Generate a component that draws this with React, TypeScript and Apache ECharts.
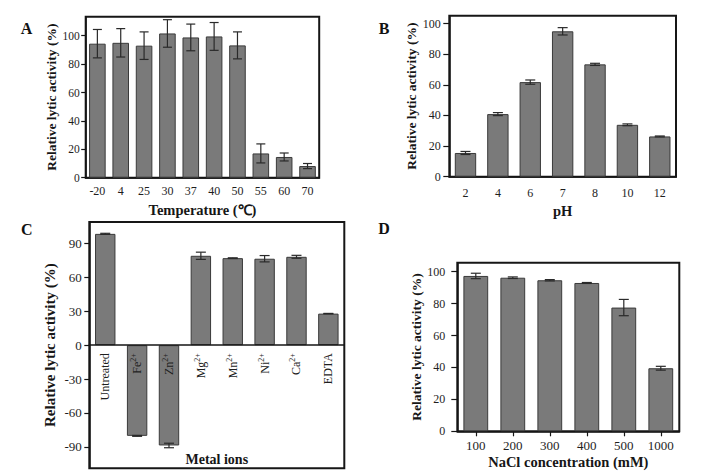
import React, { useEffect, useRef } from "react";
import * as echarts from "echarts";

// Temperature stability (panel A)
const tempLabels = ["-20", "4", "25", "30", "37", "40", "50", "55", "60", "70"];
const tempActivity = [94.4, 95, 93, 101.6, 98.8, 99.5, 93.2, 17.1, 14.6, 8.2];
const tempError = [10, 10, 9.7, 9.7, 9.4, 9.8, 9.5, 6.7, 2.8, 1.8];

// pH stability (panel B)
const phLabels = ["2", "4", "6", "7", "8", "10", "12"];
const phActivity = [15.5, 40.9, 61.8, 95, 73.4, 33.9, 26.3];
const phError = [1, 1, 1.4, 2.4, 0.7, 0.6, 0.3];

// Metal ions (panel C)
const metalLabels = ["Untreated", "Fe2+", "Zn2+", "Mg2+", "Mn2+", "Ni2+", "Ca2+", "EDTA"];
const metalActivity = [98.5, -80.3, -88.8, 79.1, 77, 76.5, 78.2, 27.9];
const metalError = [0.5, 0.4, 2, 3.2, 0.3, 2.8, 1.3, 0.2];

// NaCl tolerance (panel D)
const naclLabels = ["100", "200", "300", "400", "500", "1000"];
const naclActivity = [97.3, 96.2, 94.6, 92.9, 77.5, 39.5];
const naclError = [1.7, 0.5, 0.4, 0.3, 5.1, 1.2];

const tickTemp = [0, 20, 40, 60, 80, 100];
const tickPh = [0, 20, 40, 60, 80, 100];
const tickMetal = [-90, -60, -30, 0, 30, 60, 90];
const tickNacl = [0, 20, 40, 60, 80, 100];

const SERIF = "Liberation Serif";
const BAR_FILL = "#7a7a7a";
const BAR_EDGE = "#3a3a3a";
const INK = "#161616";
const YNAME = "Relative lytic activity (%)";

// panel C geometry: symmetric value range, so the zero line sits mid-height
const C_TOP = 222;
const C_HEIGHT = 246.3;
const C_RANGE = 109;

function errorBars(idx: number, vals: number[], errs: number[], cap: number) {
  return {
    type: "custom",
    xAxisIndex: idx,
    yAxisIndex: idx,
    z: 4,
    data: vals.map((v, i) => [i, v - errs[i], v + errs[i]]),
    renderItem: (_p: any, api: any) => {
      const x = api.value(0);
      const lo = api.coord([x, api.value(1)]);
      const hi = api.coord([x, api.value(2)]);
      const h = cap / 2;
      const st = { stroke: "#2a2a2a", lineWidth: 1.2 };
      return {
        type: "group",
        children: [
          { type: "line", shape: { x1: lo[0], y1: lo[1], x2: hi[0], y2: hi[1] }, style: st },
          { type: "line", shape: { x1: hi[0] - h, y1: hi[1], x2: hi[0] + h, y2: hi[1] }, style: st },
          { type: "line", shape: { x1: lo[0] - h, y1: lo[1], x2: lo[0] + h, y2: lo[1] }, style: st },
        ],
      };
    },
  };
}

function bars(idx: number, vals: number[], gap: string) {
  return {
    type: "bar",
    xAxisIndex: idx,
    yAxisIndex: idx,
    data: vals,
    barCategoryGap: gap,
    itemStyle: { color: BAR_FILL, borderColor: BAR_EDGE, borderWidth: 1 },
    z: 2,
  };
}

function yAxis(
  idx: number,
  min: number,
  max: number,
  ticks: number[],
  opts: { fs: number; margin: number; tick: number; nameGap: number; nameFs: number }
) {
  return {
    gridIndex: idx,
    type: "value",
    min,
    max,
    splitLine: { show: false },
    axisLine: { show: true, lineStyle: { color: INK, width: 1.5 } },
    axisTick: { show: true, length: opts.tick, customValues: ticks, lineStyle: { color: INK, width: 1.2 } },
    axisLabel: {
      customValues: ticks,
      fontFamily: SERIF,
      fontSize: opts.fs,
      color: "#1e1e1e",
      margin: opts.margin,
    },
    name: YNAME,
    nameLocation: "middle",
    nameGap: opts.nameGap,
    nameTextStyle: { fontFamily: SERIF, fontWeight: "bold", fontSize: opts.nameFs, color: INK },
  };
}

function metalLabel(v: string) {
  const m = v.match(/^([A-Za-z]+)(\d\+)$/);
  return m ? `{b|${m[1]}}{s|${m[2]}}` : `{b|${v}}`;
}

export default function App() {
  const ref = useRef<HTMLDivElement>(null);

  useEffect(() => {
    if (!ref.current) return;
    const chart = echarts.init(ref.current, null, { renderer: "svg" });

    const gridBase = {
      show: true,
      borderColor: INK,
      borderWidth: 2,
      backgroundColor: "transparent",
      containLabel: false,
      outerBoundsMode: "none",
    };

    chart.setOption({
      animation: false,
      backgroundColor: "#ffffff",
      grid: [
        { ...gridBase, left: 85.7, top: 16.7, width: 233.5, height: 161 },
        { ...gridBase, left: 449.3, top: 15.7, width: 226.7, height: 161 },
        { ...gridBase, left: 89.3, top: C_TOP, width: 255, height: C_HEIGHT },
        { ...gridBase, left: 457.3, top: 262.7, width: 222, height: 168.6 },
      ],
      xAxis: [
        {
          gridIndex: 0,
          type: "category",
          data: tempLabels,
          axisLine: { lineStyle: { color: INK, width: 1.5 } },
          axisTick: { show: false },
          axisLabel: { fontFamily: SERIF, fontSize: 12, color: "#1e1e1e", margin: 7 },
          name: "Temperature (℃)",
          nameLocation: "middle",
          nameGap: 25,
          nameTextStyle: { fontFamily: SERIF, fontWeight: "bold", fontSize: 14.5, color: INK },
        },
        {
          gridIndex: 1,
          type: "category",
          data: phLabels,
          axisLine: { lineStyle: { color: INK, width: 1.5 } },
          axisTick: { show: false },
          axisLabel: { fontFamily: SERIF, fontSize: 12, color: "#1e1e1e", margin: 10 },
          name: "pH",
          nameLocation: "middle",
          nameGap: 27,
          nameTextStyle: { fontFamily: SERIF, fontWeight: "bold", fontSize: 14.5, color: INK },
        },
        {
          gridIndex: 2,
          type: "category",
          data: metalLabels,
          z: 6,
          position: "bottom",
          // lift the axis from the grid's bottom edge up to the zero line
          offset: -C_HEIGHT / 2,
          axisLine: { onZero: false, lineStyle: { color: INK, width: 1.5 } },
          axisTick: { show: false },
          axisLabel: {
            rotate: 90,
            margin: 8,
            formatter: metalLabel,
            rich: {
              b: { fontFamily: SERIF, fontSize: 12, color: "#1e1e1e", lineHeight: 15 },
              s: { fontFamily: SERIF, fontSize: 8, color: "#1e1e1e", lineHeight: 15, verticalAlign: "top" },
            },
          },
        },
        {
          gridIndex: 3,
          type: "category",
          data: naclLabels,
          axisLine: { lineStyle: { color: INK, width: 1.5 } },
          axisTick: { show: true, alignWithLabel: true, length: 5, lineStyle: { color: INK, width: 1.2 } },
          axisLabel: { fontFamily: SERIF, fontSize: 13, color: "#1e1e1e", margin: 8 },
          name: "NaCl concentration (mM)",
          nameLocation: "middle",
          nameGap: 23,
          nameTextStyle: { fontFamily: SERIF, fontWeight: "bold", fontSize: 14.5, color: INK },
        },
      ],
      yAxis: [
        yAxis(0, 0, 113.4, tickTemp, { fs: 11.5, margin: 6, tick: 4.5, nameGap: 25, nameFs: 13.5 }),
        yAxis(1, 0, 105.2, tickPh, { fs: 12, margin: 8.5, tick: 6, nameGap: 27, nameFs: 13.5 }),
        yAxis(2, -C_RANGE, C_RANGE, tickMetal, { fs: 13, margin: 7.5, tick: 5, nameGap: 32, nameFs: 15 }),
        yAxis(3, 0, 105.6, tickNacl, { fs: 12, margin: 12, tick: 6, nameGap: 32, nameFs: 13.5 }),
      ],
      series: [
        bars(0, tempActivity, "29%"),
        errorBars(0, tempActivity, tempError, 9),
        bars(1, phActivity, "34%"),
        errorBars(1, phActivity, phError, 10),
        bars(2, metalActivity, "36%"),
        errorBars(2, metalActivity, metalError, 10),
        bars(3, naclActivity, "33%"),
        errorBars(3, naclActivity, naclError, 10),
      ],
      graphic: [
        { type: "text", x: 26.5, y: 28.3, style: { text: "A", font: `bold 16px ${SERIF}`, fill: "#111", align: "center", verticalAlign: "middle" } },
        { type: "text", x: 384, y: 28.3, style: { text: "B", font: `bold 16px ${SERIF}`, fill: "#111", align: "center", verticalAlign: "middle" } },
        { type: "text", x: 26.7, y: 229, style: { text: "C", font: `bold 16px ${SERIF}`, fill: "#111", align: "center", verticalAlign: "middle" } },
        { type: "text", x: 384, y: 228.7, style: { text: "D", font: `bold 16px ${SERIF}`, fill: "#111", align: "center", verticalAlign: "middle" } },
        { type: "text", x: 216.8, y: 459, z: 10, style: { text: "Metal ions", font: `bold 14px ${SERIF}`, fill: INK, align: "center", verticalAlign: "middle" } },
      ],
    });

    return () => chart.dispose();
  }, []);

  return (
    <div
      ref={ref}
      style={{ position: "fixed", left: 0, top: 0, width: 703, height: 476, background: "#fff" }}
    />
  );
}
